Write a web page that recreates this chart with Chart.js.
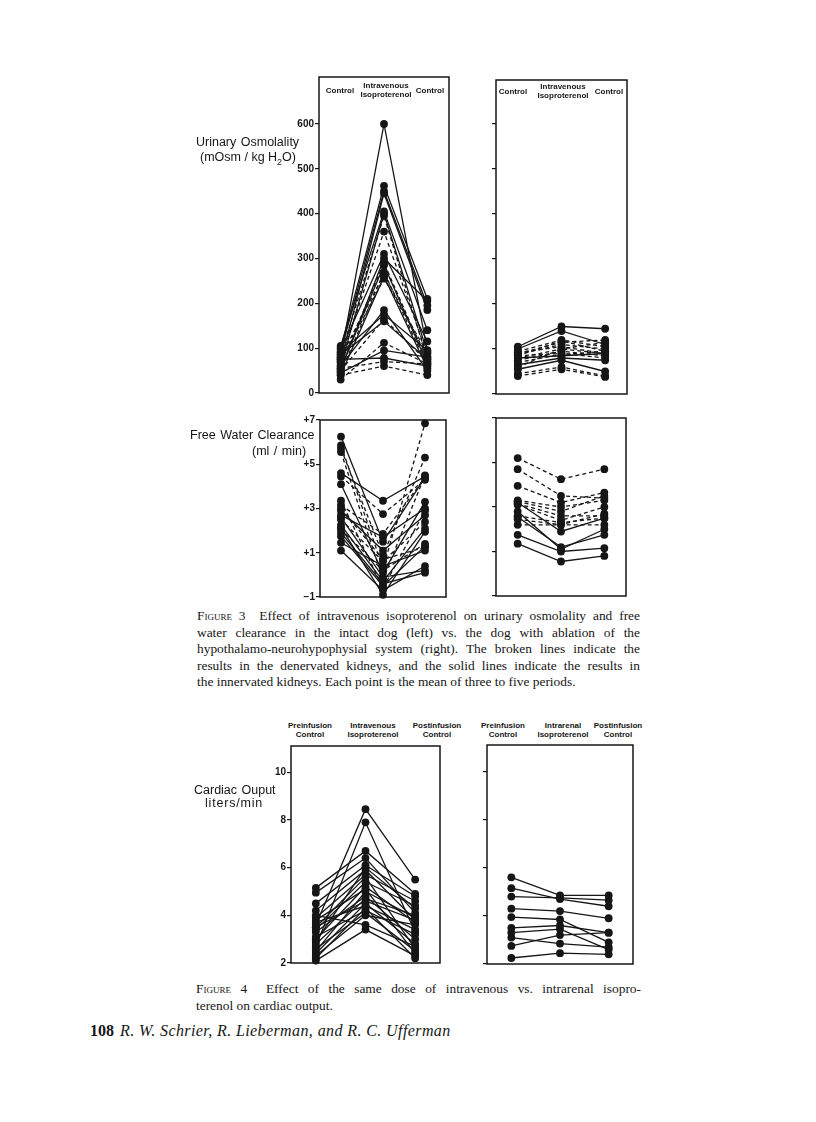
<!DOCTYPE html>
<html>
<head>
<meta charset="utf-8">
<script src="https://cdn.jsdelivr.net/npm/chart.js"></script>
<style>
  body { margin: 0; width: 816px; height: 1122px; position: relative; overflow: hidden; background: #fff;
         font-family: "Liberation Sans", Arial, sans-serif; color: #161616; }
  canvas { position: absolute; }
  .t { position: absolute; white-space: nowrap; font-size: 12.5px; line-height: 16px; word-spacing: 1px; }
  .hd { position: absolute; transform: translateX(-50%); text-align: center; font-weight: bold;
        font-size: 8px; line-height: 9px; white-space: nowrap; }
  .cap { position: absolute; font-family: "Liberation Serif", "Times New Roman", serif; font-size: 13.4px; line-height: 16.5px; }
  .cap div { text-align: justify; text-align-last: justify; }
  .cap div.last { text-align-last: left; }
  .sc { font-variant: small-caps; }
  .foot { position: absolute; font-family: "Liberation Serif", "Times New Roman", serif; font-size: 16px; white-space: nowrap; }
</style>
</head>
<body>
<div id="page"></div>
<script>
// ---- data ----
const catsIV = ['Control', 'Intravenous Isoproterenol', 'Control'];
const catsCOiv = ['Preinfusion Control', 'Intravenous Isoproterenol', 'Postinfusion Control'];
const catsCOir = ['Preinfusion Control', 'Intrarenal Isoproterenol', 'Postinfusion Control'];

// urinary osmolality (mOsm/kg H2O), intact dog
const osmIntactPre  = [80, 100, 90, 70, 105, 60, 85, 75, 95, 50, 65, 55, 45, 80, 40, 70, 60, 90, 50, 85, 30, 45, 75, 55, 40];
const osmIntactIso  = [600, 462, 450, 445, 405, 400, 395, 360, 310, 300, 290, 285, 270, 265, 260, 255, 185, 175, 165, 160, 112, 95, 78, 70, 60];
const osmIntactPost = [95, 210, 195, 185, 140, 90, 75, 85, 115, 205, 70, 65, 60, 80, 55, 90, 50, 95, 70, 75, 65, 80, 60, 65, 40];
const osmIntactBroken = [0, 0, 0, 0, 0, 0, 1, 1, 0, 0, 1, 0, 1, 1, 0, 1, 0, 0, 1, 0, 1, 0, 0, 1, 1];

// urinary osmolality, hypophysectomized dog
const osmAblPre  = [105, 100, 95, 90, 88, 85, 92, 80, 75, 85, 70, 80, 65, 55, 45, 40, 60];
const osmAblIso  = [150, 140, 120, 115, 110, 118, 105, 100, 95, 90, 88, 85, 80, 75, 60, 55, 100];
const osmAblPost = [145, 110, 105, 120, 100, 95, 90, 115, 85, 80, 95, 90, 75, 50, 40, 38, 90];
const osmAblBroken = [0, 0, 1, 1, 1, 1, 1, 1, 1, 1, 1, 0, 0, 0, 1, 1, 1];

// free water clearance (ml/min), intact dog
const fwIntactPre  = [6.25, 5.85, 5.7, 5.55, 4.6, 4.45, 4.1, 3.35, 3.15, 2.9, 2.7, 2.5, 2.25, 2.15, 2.05, 1.75, 1.45, 1.1, 2.6, 1.9, 3.0];
const fwIntactIso  = [1.5, 0.3, 0.9, -0.2, 3.35, 2.75, 0.1, -0.6, 1.85, 1.1, 1.7, 0.6, -0.3, -0.9, 0.2, -0.5, 0.4, -0.7, -0.1, -0.4, 0.7];
const fwIntactPost = [4.4, 6.85, 5.3, 4.5, 4.45, 4.3, 3.3, 2.9, 4.4, 2.7, 3.0, 2.4, 2.1, 1.95, 1.4, 1.3, 1.1, 0.4, 0.2, 0.1, 1.25];
const fwIntactBroken = [0, 1, 1, 1, 0, 1, 0, 1, 1, 0, 0, 1, 0, 0, 1, 0, 0, 0, 0, 0, 1];

// free water clearance, hypophysectomized dog
const fwAblPre  = [5.2, 4.7, 3.95, 3.3, 3.25, 3.15, 3.1, 2.6, 2.45, 2.2, 3.2, 2.55, 1.75, 1.35, 2.8];
const fwAblIso  = [4.25, 3.5, 3.2, 3.0, 2.8, 2.6, 2.4, 2.3, 2.2, 2.2, 1.9, 1.2, 1.0, 0.55, 1.1];
const fwAblPost = [4.7, 3.4, 3.65, 3.3, 3.5, 2.6, 3.0, 2.5, 2.7, 2.2, 2.5, 1.75, 1.15, 0.8, 2.0];
const fwAblBroken = [1, 1, 1, 1, 1, 1, 1, 1, 1, 1, 0, 0, 0, 0, 0];

// cardiac output (liters/min), intravenous
const coIvPre  = [3.6, 2.7, 5.15, 4.95, 4.5, 4.2, 3.9, 3.5, 3.4, 3.0, 3.8, 2.5, 3.3, 2.8, 2.4, 3.7, 2.2, 3.1, 2.6, 2.3, 4.0, 2.1, 3.5, 2.9];
const coIvIso  = [8.45, 7.9, 6.7, 6.4, 6.1, 5.9, 5.7, 5.6, 5.4, 5.2, 5.1, 5.0, 4.8, 4.7, 4.5, 4.4, 4.3, 4.2, 4.1, 4.0, 3.6, 3.4, 4.6, 6.0];
const coIvPost = [5.5, 3.3, 4.9, 4.1, 4.8, 3.8, 4.6, 2.6, 4.4, 3.7, 2.4, 3.9, 3.0, 4.0, 2.8, 3.4, 2.2, 3.2, 2.5, 3.6, 2.7, 2.3, 3.8, 4.3];

// cardiac output, intrarenal
const coIrPre  = [5.6, 5.15, 4.8, 4.3, 3.95, 3.5, 3.3, 3.1, 2.75, 2.25];
const coIrIso  = [4.85, 4.7, 4.75, 4.2, 3.85, 3.6, 3.45, 2.85, 3.2, 2.45];
const coIrPost = [4.85, 4.4, 4.65, 3.9, 2.9, 3.3, 2.6, 2.7, 3.3, 2.4];

const osmTicks = [0, 100, 200, 300, 400, 500, 600];
const fwTicks = [-1, 1, 3, 5, 7];
const coTicks = [2, 4, 6, 8, 10];

// ---- drawing ----
const INK = '#161616';
const YW = 32;

const framePlugin = {
  id: 'frame',
  afterDraw(chart, args, opts) {
    const { ctx, chartArea: a } = chart;
    const h = opts.header || 0;
    ctx.save();
    ctx.strokeStyle = INK;
    ctx.lineWidth = 1.5;
    ctx.strokeRect(a.left, a.top - h, a.right - a.left, a.bottom - a.top + h);
    ctx.restore();
  }
};

function lines(pre, iso, post, broken) {
  return pre.map((v, i) => ({
    data: [v, iso[i], post[i]],
    borderColor: INK,
    backgroundColor: INK,
    borderWidth: 1.3,
    borderDash: broken && broken[i] ? [4, 3] : [],
    pointRadius: 3.9,
    pointBorderWidth: 0,
    pointBackgroundColor: INK,
    tension: 0,
    clip: false
  }));
}

function panel(box, cats, datasets, yMin, yMax, ticks, showLabels, fmt, header) {
  const padTop = (header || 0) + 6, padR = 6, padB = 6;
  const cv = document.createElement('canvas');
  cv.width = YW + (box.R - box.L) + padR;
  cv.height = padTop + (box.B - box.T) + padB;
  cv.style.left = (box.L - YW) + 'px';
  cv.style.top = (box.T - padTop) + 'px';
  document.getElementById('page').appendChild(cv);

  new Chart(cv, {
    type: 'line',
    data: { labels: cats, datasets: datasets },
    options: {
      responsive: false,
      animation: false,
      layout: { padding: { top: padTop, right: padR, bottom: padB, left: 0 }, autoPadding: false },
      plugins: { legend: { display: false }, tooltip: { enabled: false }, frame: { header: header || 0 } },
      scales: {
        x: { type: 'category', offset: true, display: false },
        y: {
          min: yMin, max: yMax,
          afterFit: s => { s.width = YW; },
          afterBuildTicks: s => { s.ticks = ticks.map(v => ({ value: v })); },
          border: { display: false },
          grid: { drawOnChartArea: false, drawTicks: true, tickLength: 4, color: INK, lineWidth: 1.2 },
          ticks: {
            display: showLabels,
            padding: 1,
            color: INK,
            font: { family: 'Liberation Sans', weight: 'bold', size: 10 },
            callback: v => fmt ? fmt(v) : v
          }
        }
      }
    },
    plugins: [framePlugin]
  });
}

const signed = v => v > 0 ? '+' + v : '\u2212' + Math.abs(v);

panel({ L: 319, T: 103, R: 449, B: 394 }, catsIV, lines(osmIntactPre, osmIntactIso, osmIntactPost, osmIntactBroken),
      0, 646.7, osmTicks, true, null, 26);
panel({ L: 496, T: 103, R: 627, B: 394 }, catsIV, lines(osmAblPre, osmAblIso, osmAblPost, osmAblBroken),
      0, 646.7, osmTicks, false, null, 23);
panel({ L: 320, T: 419, R: 446, B: 598 }, catsIV, lines(fwIntactPre, fwIntactIso, fwIntactPost, fwIntactBroken),
      -1, 7, fwTicks, true, signed);
panel({ L: 496, T: 418, R: 626, B: 596 }, catsIV, lines(fwAblPre, fwAblIso, fwAblPost, fwAblBroken),
      -1, 7, fwTicks, false, signed);
panel({ L: 291, T: 745, R: 440, B: 964 }, catsCOiv, lines(coIvPre, coIvIso, coIvPost),
      2, 11.1, coTicks, true, null);
panel({ L: 487, T: 745, R: 633, B: 964 }, catsCOir, lines(coIrPre, coIrIso, coIrPost),
      2, 11.1, coTicks, false, null);

// column headings
function heads(cats, centers, top) {
  cats.forEach((c, i) => {
    const d = document.createElement('div');
    d.className = 'hd';
    const words = c.split(' ');
    const twoLine = words.length > 1;
    d.innerHTML = twoLine ? words[0] + '<br>' + words.slice(1).join(' ') : c;
    d.style.left = centers[i] + 'px';
    d.style.top = (twoLine ? top : top + 4.5) + 'px';
    document.getElementById('page').appendChild(d);
  });
}
heads(catsIV, [340, 386, 430], 81);
heads(catsIV, [513, 563, 609], 82);
heads(catsCOiv, [310, 373, 437], 721);
heads(catsCOir, [503, 563, 618], 721);
</script>

<div class="t" style="left:196px;top:134px;">Urinary Osmolality</div>
<div class="t" style="left:200px;top:149px;word-spacing:0;">(mOsm / kg H<sub style="font-size:9px">2</sub>O)</div>
<div class="t" style="left:190px;top:427px;">Free Water Clearance</div>
<div class="t" style="left:252px;top:443px;">(ml / min)</div>
<div class="t" style="left:194px;top:782px;">Cardiac Ouput</div>
<div class="t" style="left:205px;top:795px;letter-spacing:0.8px;">liters/min</div>

<div class="cap" style="left:197px;top:608px;width:443px;">
  <div><span class="sc">Figure</span> 3&nbsp; Effect of intravenous isoproterenol on urinary osmolality and free</div>
  <div>water clearance in the intact dog (left) vs. the dog with ablation of the</div>
  <div>hypothalamo-neurohypophysial system (right). The broken lines indicate the</div>
  <div>results in the denervated kidneys, and the solid lines indicate the results in</div>
  <div class="last">the innervated kidneys. Each point is the mean of three to five periods.</div>
</div>

<div class="cap" style="left:196px;top:981px;width:445px;">
  <div><span class="sc">Figure</span> 4&nbsp; Effect of the same dose of intravenous vs. intrarenal isopro-</div>
  <div class="last">terenol on cardiac output.</div>
</div>

<div class="foot" style="left:90px;top:1022px;font-weight:bold;">108</div>
<div class="foot" style="left:120px;top:1022px;font-style:italic;letter-spacing:0.4px;">R. W. Schrier, R. Lieberman, and R. C. Ufferman</div>
</body>
</html>
